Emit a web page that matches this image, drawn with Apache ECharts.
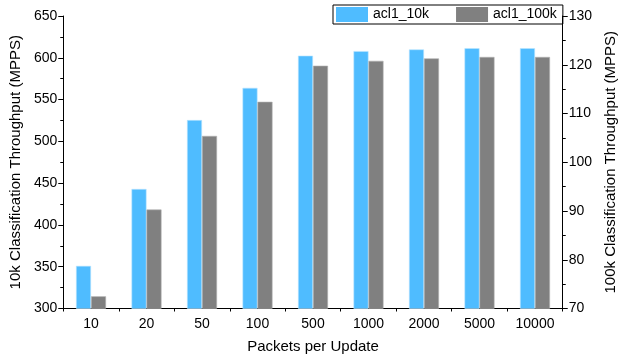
<!DOCTYPE html>
<html><head><meta charset="utf-8">
<script src="https://cdn.jsdelivr.net/npm/echarts@6/dist/echarts.min.js"></script>
<style>html,body{margin:0;padding:0;background:#fff}#c{width:626px;height:360px}</style>
</head><body><div id="c"></div>
<script>
const categories = ['10','20','50','100','500','1000','2000','5000','10000'];
const acl1_10k = [351, 443, 525.5, 564, 602.5, 608, 610, 611.5, 611.5];
const acl1_100k = [72.5, 90.3, 105.4, 112.4, 119.8, 120.8, 121.3, 121.6, 121.6];
const seriesNames = ['acl1_10k', 'acl1_100k'];
const FONT = 'Liberation Sans, Arial, sans-serif';
const chart = echarts.init(document.getElementById('c'), null, {renderer:'canvas'});
const tickLbl = {color:'#000', fontFamily:FONT, fontSize:14};
chart.setOption({
  animation:false,
  textStyle:{fontFamily:FONT},
  grid:{left:58, right:49, top:16, bottom:51.5},
  legend:{
    data:seriesNames, top:5, left:333, itemWidth:32, itemHeight:15, itemGap:27,
    borderColor:'#000', borderWidth:1, padding:[2,6,2,3], borderRadius:0,
    textStyle:{color:'#000', fontFamily:FONT, fontSize:14},
    itemStyle:{borderWidth:0},
    icon:'rect'
  },
  xAxis:[{
    type:'category', data:categories, position:'bottom',
    name:'Packets per Update', nameLocation:'middle', nameGap:31,
    nameTextStyle:{color:'#000', fontFamily:FONT, fontSize:15},
    axisLine:{lineStyle:{color:'#000', width:1}},
    axisTick:{alignWithLabel:true, length:5, lineStyle:{color:'#000'}},
    axisLabel:Object.assign({margin:9}, tickLbl)
  },{
    type:'category', data:categories, position:'bottom',
    axisLine:{show:false}, axisLabel:{show:false},
    axisTick:{show:true, length:3, lineStyle:{color:'#000'}}
  }],
  yAxis:[{
    type:'value', min:300, max:650, interval:50, position:'left',
    name:'10k Classification Throughput (MPPS)', nameLocation:'middle', nameGap:40,
    nameTextStyle:{color:'#000', fontFamily:FONT, fontSize:15},
    axisLine:{show:true, lineStyle:{color:'#000'}},
    axisTick:{show:true, length:5, lineStyle:{color:'#000'}},
    minorTick:{show:true, splitNumber:2, length:3, lineStyle:{color:'#000'}},
    splitLine:{show:false},
    axisLabel:Object.assign({margin:6}, tickLbl)
  },{
    type:'value', min:70, max:130, interval:10, position:'right',
    name:'100k Classification Throughput (MPPS)', nameLocation:'middle', nameGap:36, nameRotate:90,
    nameTextStyle:{color:'#000', fontFamily:FONT, fontSize:15},
    axisLine:{show:true, lineStyle:{color:'#000'}},
    axisTick:{show:true, length:5, lineStyle:{color:'#000'}},
    minorTick:{show:true, splitNumber:2, length:3, lineStyle:{color:'#000'}},
    splitLine:{show:false},
    axisLabel:Object.assign({margin:6}, tickLbl)
  }],
  series:[{
    name:seriesNames[0], type:'bar', xAxisIndex:0, yAxisIndex:0, data:acl1_10k,
    barWidth:15, barGap:'0%',
    itemStyle:{color:'#4FBCFF', borderColor:'#B8E4FF', borderWidth:0.6}
  },{
    name:seriesNames[1], type:'bar', xAxisIndex:0, yAxisIndex:1, data:acl1_100k,
    barWidth:15, barGap:'0%',
    itemStyle:{color:'#808080', borderColor:'#B0B0B0', borderWidth:0.6}
  }]
});
</script></body></html>
